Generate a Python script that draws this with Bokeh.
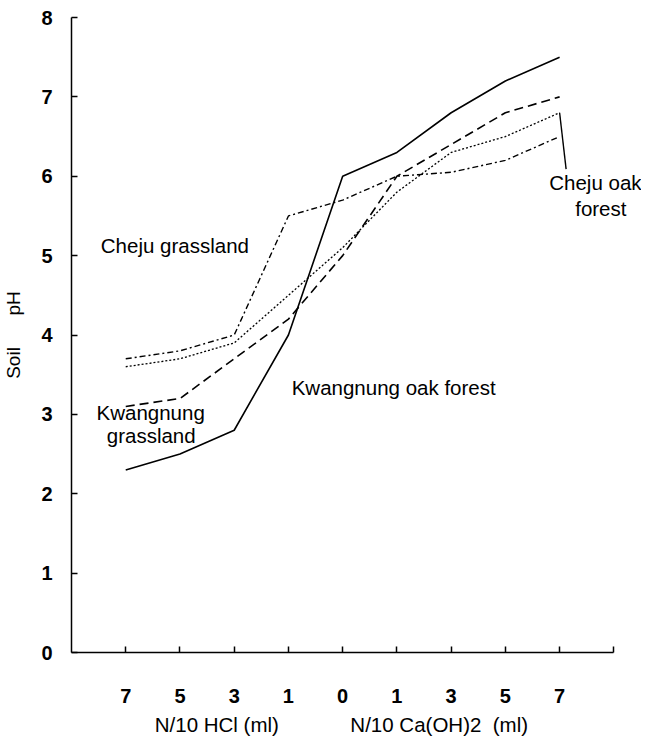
from bokeh.plotting import figure
from bokeh.models import FixedTicker, Range1d, Label, LinearAxis
from bokeh.embed import file_html
from bokeh.resources import INLINE

# ---- data ----
tick_labels = ["7", "5", "3", "1", "0", "1", "3", "5", "7"]
x_idx = list(range(len(tick_labels)))
kwangnung_oak = [2.3, 2.5, 2.8, 4.0, 6.0, 6.3, 6.8, 7.2, 7.5]      # solid
kwangnung_grass = [3.1, 3.2, 3.7, 4.2, 5.0, 6.0, 6.4, 6.8, 7.0]    # dashed
cheju_oak = [3.6, 3.7, 3.9, 4.5, 5.1, 5.8, 6.3, 6.5, 6.8]          # dotted
cheju_grass = [3.7, 3.8, 4.0, 5.5, 5.7, 6.0, 6.05, 6.2, 6.5]       # dash-dot
x_captions = {1.68: "N/10 HCl (ml)", 5.78: "N/10 Ca(OH)2\u00a0\u00a0(ml)"}

FONT = "Liberation Sans"
TXT = "20.5px"

p = figure(frame_width=570, frame_height=635, output_backend="svg",
           toolbar_location=None, x_range=Range1d(-1, 9.51), y_range=Range1d(0, 8),
           min_border_left=63, min_border_top=17, min_border_right=0,
           min_border_bottom=70)
p.outline_line_color = None
p.grid.grid_line_color = None
p.background_fill_color = "white"
p.border_fill_color = "white"

# lines
p.line(x_idx, kwangnung_oak, line_color="black", line_width=1.6)
p.line(x_idx, kwangnung_grass, line_color="black", line_width=1.6, line_dash="9 5")
p.line(x_idx, cheju_oak, line_color="black", line_width=1.3, line_dash="2 2")
p.line(x_idx, cheju_grass, line_color="black", line_width=1.4, line_dash="6 3 2 3")

# leader line for Cheju oak forest
p.segment(x0=[x_idx[-1]], y0=[cheju_oak[-1]], x1=[8.12], y1=[6.09],
          line_color="black", line_width=1.4)

# x axis
xa = p.xaxis[0]
xa.bounds = (-1, 9)
xa.ticker = FixedTicker(ticks=x_idx + [9])
overrides = {i: t for i, t in zip(x_idx, tick_labels)}
overrides[9] = ""
xa.major_label_overrides = overrides
xa.minor_tick_line_color = None
xa.major_tick_in = 6
xa.major_tick_out = 0
xa.axis_line_width = 1.5
xa.major_tick_line_width = 1.5
xa.major_label_standoff = 36
xa.major_label_text_font = FONT
xa.major_label_text_font_size = "20px"
xa.major_label_text_font_style = "bold"
xa.major_label_text_color = "black"

# second axis carrying the two captions
cap = LinearAxis(ticker=FixedTicker(ticks=list(x_captions.keys())),
                 major_label_overrides=x_captions)
cap.axis_line_color = None
cap.major_tick_line_color = None
cap.minor_tick_line_color = None
cap.major_label_standoff = 1
cap.major_label_text_font = FONT
cap.major_label_text_font_size = TXT
cap.major_label_text_color = "black"
p.add_layout(cap, "below")

# y axis
ya = p.yaxis[0]
ya.ticker = FixedTicker(ticks=list(range(0, 9)))
ya.minor_tick_line_color = None
ya.major_tick_in = 6
ya.major_tick_out = 0
ya.axis_line_width = 1.5
ya.major_tick_line_width = 1.5
ya.major_label_standoff = 19
ya.major_label_text_font = FONT
ya.major_label_text_font_size = "20px"
ya.major_label_text_font_style = "bold"
ya.major_label_text_color = "black"
ya.axis_label = "Soil\u00a0\u00a0\u00a0\u00a0\u00a0\u00a0pH"
ya.axis_label_text_font = FONT
ya.axis_label_text_font_size = "19px"
ya.axis_label_text_font_style = "normal"
ya.axis_label_text_color = "black"
ya.axis_label_standoff = 14

def lab(x, y, t, align="left"):
    p.add_layout(Label(x=x, y=y, text=t, text_font=FONT, text_font_size=TXT,
                       text_align=align, text_baseline="middle", text_color="black"))

lab(-0.46, 5.13, "Cheju grassland")
lab(0.46, 3.02, "Kwangnung", "center")
lab(0.47, 2.73, "grassland", "center")
lab(3.06, 3.34, "Kwangnung oak forest")
lab(8.66, 5.92, "Cheju oak", "center")
lab(8.76, 5.6, "forest", "center")

open("out.html", "w").write(file_html(p, INLINE))
